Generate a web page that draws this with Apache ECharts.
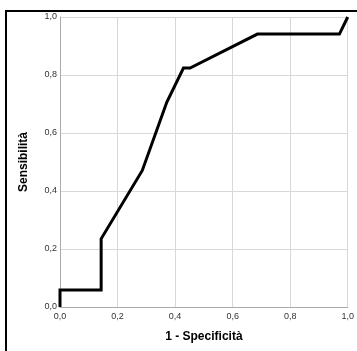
<!DOCTYPE html>
<html>
<head>
<meta charset="utf-8">
<script src="https://cdn.jsdelivr.net/npm/echarts@6/dist/echarts.min.js"></script>
<style>
html, body {margin: 0; padding: 0; background: #fff;}
#box {width: 357px; height: 351px;}
</style>
</head>
<body>
<div id="box"></div>
<script>
// curva ROC
var specX = [0, 0, 0.143, 0.143, 0.286, 0.371, 0.429, 0.452, 0.686, 0.971, 1];
var sensY = [0, 0.059, 0.059, 0.235, 0.471, 0.706, 0.824, 0.824, 0.941, 0.941, 1];
var tickVals = [0, 0.2, 0.4, 0.6, 0.8, 1];

var rocData = [];
specX.forEach(function (x, i) {
    rocData.push([x, sensY[i]]);
});

function fmt(v) {
    return v.toFixed(1).replace('.', ',');
}

var chart = echarts.init(document.getElementById('box'));
var option = {
    animation: false,
    grid: {left: 60, top: 17, width: 290, height: 290},
    graphic: [{
        type: 'rect',
        shape: {x: 6, y: 11, width: 400, height: 400},
        style: {fill: 'none', stroke: '#000', lineWidth: 2}
    }],
    xAxis: {
        type: 'value', min: 0, max: 1, interval: 0.2,
        name: '1 - Specificità', nameLocation: 'middle', nameGap: 24,
        nameTextStyle: {fontFamily: 'Liberation Sans', fontWeight: 'bold', fontSize: 12, color: '#000'},
        axisLine: {lineStyle: {color: '#aaa'}},
        axisTick: {show: false},
        axisLabel: {formatter: fmt, fontFamily: 'Liberation Sans', fontSize: 9, color: '#333', margin: 5},
        splitLine: {lineStyle: {color: '#d8d8d8'}}
    },
    yAxis: {
        type: 'value', min: 0, max: 1, interval: 0.2,
        name: 'Sensibilità', nameLocation: 'middle', nameGap: 30,
        nameTextStyle: {fontFamily: 'Liberation Sans', fontWeight: 'bold', fontSize: 12, color: '#000'},
        axisLine: {show: true, lineStyle: {color: '#aaa'}},
        axisTick: {show: false},
        axisLabel: {formatter: fmt, fontFamily: 'Liberation Sans', fontSize: 9, color: '#333', margin: 3},
        splitLine: {lineStyle: {color: '#d8d8d8'}}
    },
    series: [{
        type: 'line',
        data: rocData,
        symbol: 'none',
        lineStyle: {color: '#000', width: 3, join: 'miter'}
    }]
};
chart.setOption(option);
</script>
</body>
</html>
